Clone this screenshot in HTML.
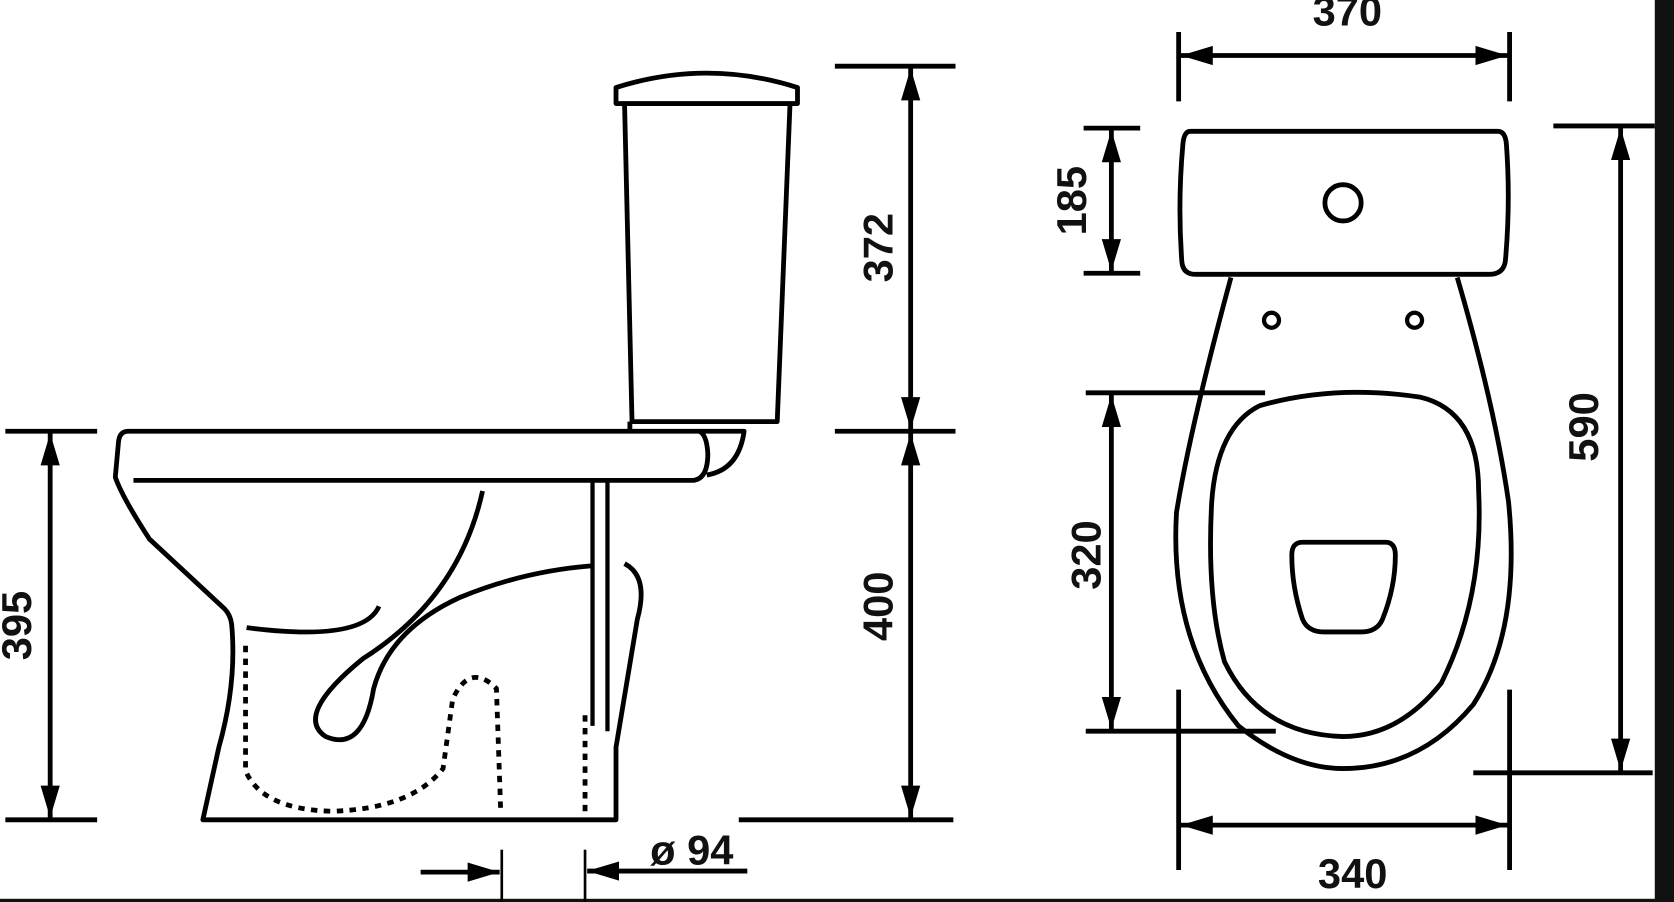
<!DOCTYPE html>
<html><head><meta charset="utf-8"><style>
html,body{margin:0;padding:0;background:#fff;overflow:hidden}
svg{display:block}
text{font-family:"Liberation Sans",sans-serif;font-weight:bold;font-size:39px;fill:#111}
</style></head><body>
<svg width="1674" height="902" viewBox="0 0 1568 845" preserveAspectRatio="none" xmlns="http://www.w3.org/2000/svg">
<defs>
<marker id="a" viewBox="0 0 10 10" refX="10" refY="5" markerWidth="30" markerHeight="30" markerUnits="userSpaceOnUse" orient="auto-start-reverse"><path d="M0,2 L10,5 L0,8z" fill="#000"/></marker>
</defs>
<rect x="0" y="0" width="1568" height="845" fill="#fff"/>
<rect x="1550" y="0" width="18" height="845" fill="#111"/>
<rect x="0" y="842" width="1568" height="3" fill="#111"/>
<g fill="none" stroke="#000" stroke-width="4.5" stroke-linecap="butt" stroke-linejoin="round">
<line x1="5" y1="404" x2="91" y2="404"/><line x1="5" y1="768" x2="91" y2="768"/>
<line x1="47" y1="406" x2="47" y2="766" marker-start="url(#a)" marker-end="url(#a)"/>
<line x1="782" y1="62" x2="895" y2="62"/><line x1="782" y1="404" x2="895" y2="404"/><line x1="692" y1="768" x2="893" y2="768"/>
<line x1="853" y1="64" x2="853" y2="402" marker-start="url(#a)" marker-end="url(#a)"/>
<line x1="853" y1="406" x2="853" y2="766" marker-start="url(#a)" marker-end="url(#a)"/>
<path d="M577,97 L577,82 Q662,55 747,82 L747,97 Z"/>
<path d="M585,97 L592,395 L728,395 L740,97"/>
<path d="M590,395 L590,404 L120,404 Q112,404 111,414 L108,447 Q114,465 140,505 L210,570 Q216,576 217,585 Q222,640 205,700 L190,768 L577,768 L577,700 L597,580 Q608,540 585,528"/>
<path d="M125,450 L650,450 Q663,448 663,425 Q662,407 655,404 L590,404"/>
<path d="M655,404 L697,404 Q692,440 662,445"/>
<path d="M452,460 Q430,560 340,617 Q275,670 305,690 Q340,705 350,645 Q365,590 430,560 Q490,535 555,530"/>
<path d="M231,588 Q340,602 355,568"/>
<line x1="555" y1="452" x2="555" y2="680" stroke-width="4"/>
<line x1="569" y1="452" x2="569" y2="685" stroke-width="4"/>
<g stroke-dasharray="6,6" stroke-width="4.5">
<path d="M230,605 L230,722 Q245,758 310,760 Q385,758 415,720 L424,655 Q440,620 465,645 L469,760"/>
<line x1="548" y1="670" x2="548" y2="760"/>
</g>
<line x1="470" y1="796" x2="470" y2="845" stroke-width="2.5"/><line x1="548" y1="796" x2="548" y2="845" stroke-width="2.5"/>
<line x1="394" y1="817" x2="468" y2="817" marker-end="url(#a)"/>
<line x1="700" y1="816" x2="550" y2="816" marker-end="url(#a)"/>
<line x1="1104" y1="30" x2="1104" y2="95"/><line x1="1414" y1="30" x2="1414" y2="95"/>
<line x1="1106" y1="52" x2="1412" y2="52" marker-start="url(#a)" marker-end="url(#a)"/>
<line x1="1015" y1="120" x2="1068" y2="120"/><line x1="1015" y1="256" x2="1068" y2="256"/>
<line x1="1041" y1="122" x2="1041" y2="254" marker-start="url(#a)" marker-end="url(#a)"/>
<line x1="1455" y1="118" x2="1550" y2="118"/><line x1="1380" y1="724" x2="1548" y2="724"/>
<line x1="1518" y1="120" x2="1518" y2="722" marker-start="url(#a)" marker-end="url(#a)"/>
<line x1="1017" y1="368" x2="1185" y2="368"/><line x1="1017" y1="685" x2="1195" y2="685"/>
<line x1="1041" y1="370" x2="1041" y2="683" marker-start="url(#a)" marker-end="url(#a)"/>
<line x1="1104" y1="646" x2="1104" y2="815"/><line x1="1414" y1="646" x2="1414" y2="815"/>
<line x1="1106" y1="773" x2="1412" y2="773" marker-start="url(#a)" marker-end="url(#a)"/>
<path d="M1115,123 L1403,123 Q1410,123 1411,135 Q1415,190 1410,245 Q1408,257 1395,257 L1120,257 Q1108,257 1107,245 Q1103,190 1108,135 Q1109,123 1115,123 Z"/>
<circle cx="1258" cy="190" r="17"/>
<path d="M1153,260 Q1115,400 1102,480 Q1095,600 1160,680 Q1210,720 1258,720 Q1330,720 1380,660 Q1425,590 1413,470 Q1400,380 1365,260"/>
<circle cx="1191" cy="300" r="7" stroke-width="4"/><circle cx="1325" cy="300" r="7" stroke-width="4"/>
<path d="M1180,380 Q1250,360 1330,372 Q1385,385 1385,460 Q1390,560 1350,640 Q1310,690 1258,690 Q1180,688 1147,620 Q1130,560 1135,470 Q1140,400 1180,380 Z"/>
<path d="M1220,508 L1298,508 Q1307,508 1307,520 Q1307,550 1295,580 Q1290,592 1275,592 L1240,592 Q1225,592 1220,580 Q1210,550 1210,520 Q1210,508 1220,508 Z"/>
</g>
<text x="1262" y="24" text-anchor="middle">370</text>
<text x="1267" y="832" text-anchor="middle">340</text>
<text x="648" y="810" text-anchor="middle" font-size="32">ø 94</text>
<text transform="translate(29,586) rotate(-90)" text-anchor="middle">395</text>
<text transform="translate(836,232) rotate(-90)" text-anchor="middle">372</text>
<text transform="translate(836,568) rotate(-90)" text-anchor="middle">400</text>
<text transform="translate(1017,188) rotate(-90)" text-anchor="middle">185</text>
<text transform="translate(1031,520) rotate(-90)" text-anchor="middle">320</text>
<text transform="translate(1497,400) rotate(-90)" text-anchor="middle">590</text>
</svg>
</body></html>
